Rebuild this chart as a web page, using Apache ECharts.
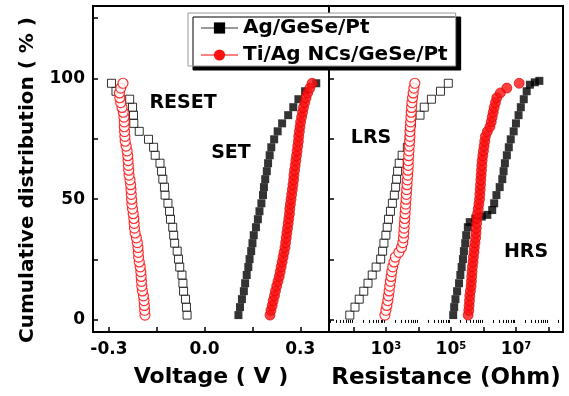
<!DOCTYPE html>
<html><head><meta charset="utf-8">
<script src="https://cdn.jsdelivr.net/npm/echarts@6/dist/echarts.min.js"></script>
<style>html,body{margin:0;padding:0;background:#fff}#c{width:569px;height:396px}</style>
</head><body><div id="c"></div>
<script>
// ---------- data ----------
const legendNames = ['Ag/GeSe/Pt', 'Ti/Ag NCs/GeSe/Pt'];
const voltageTicks = [-0.3, 0.0, 0.3];
const voltageMinorTicks = [-0.3, -0.15, 0.0, 0.15, 0.3];
const distTicks = [0, 50, 100];
const distMinorTicks = [0, 25, 50, 75, 100, 125];
const resistanceTickExponents = [3, 5, 7];
const resistanceMinorTicks = [20, 30, 40, 50, 60, 70, 80, 90, 200, 300, 400, 500, 600, 700, 800, 900,
  2e3, 3e3, 4e3, 5e3, 6e3, 7e3, 8e3, 9e3, 2e4, 3e4, 4e4, 5e4, 6e4, 7e4, 8e4, 9e4,
  2e5, 3e5, 4e5, 5e5, 6e5, 7e5, 8e5, 9e5, 2e6, 3e6, 4e6, 5e6, 6e6, 7e6, 8e6, 9e6,
  2e7, 3e7, 4e7, 5e7, 6e7, 7e7, 8e7, 9e7, 2e8];
const annotationTexts = ['RESET', 'SET', 'LRS', 'HRS'];

// cumulative percent, Ag/GeSe/Pt cells
const agPct = [2, 5.3, 8.6, 11.9, 15.2, 18.6, 21.9, 25.2, 28.5, 31.8, 35.1, 38.4, 41.7, 45, 48.3,
  51.7, 55, 58.3, 61.6, 64.9, 68.2, 71.5, 74.8, 78.1, 81.4, 84.8, 88.1, 91.4, 94.7, 98];
const agResetV = [-0.055, -0.057, -0.060, -0.066, -0.068, -0.071, -0.078, -0.082, -0.086, -0.094, -0.097, -0.100,
  -0.107, -0.110, -0.115, -0.124, -0.126, -0.131, -0.135, -0.140, -0.155, -0.160, -0.176, -0.205, -0.222, -0.223,
  -0.226, -0.235, -0.278, -0.292];
const agSetV = [0.106, 0.111, 0.117, 0.123, 0.127, 0.132, 0.137, 0.141, 0.146, 0.150, 0.154, 0.161, 0.167, 0.172,
  0.178, 0.183, 0.186, 0.190, 0.195, 0.199, 0.204, 0.209, 0.218, 0.229, 0.243, 0.262, 0.278, 0.294, 0.315, 0.350];
// resistance as log10(Ohm)
const agLrsLog = [1.89, 2.05, 2.18, 2.32, 2.45, 2.58, 2.70, 2.84, 2.90, 2.94, 3.00, 3.04, 3.08, 3.14, 3.20, 3.26,
  3.30, 3.33, 3.36, 3.41, 3.50, 3.66, 3.72, 3.74, 3.78, 4.05, 4.18, 4.40, 4.68, 4.92];
const agHrsPct = [2, 5.3, 8.6, 11.9, 15.2, 18.6, 21.9, 25.2, 28.5, 31.8, 35.1, 38.4, 40.5, 42.0, 42.8, 43.5, 45.5,
  48.3, 51.7, 55, 58.3, 61.6, 64.9, 68.2, 71.5, 74.8, 78.1, 81.4, 84.8, 88.1, 91.4, 94.7, 97.4, 98.4, 99];
const agHrsLog = [5.07, 5.10, 5.14, 5.19, 5.25, 5.29, 5.33, 5.37, 5.40, 5.44, 5.47, 5.52, 5.58, 5.75, 5.95, 6.12,
  6.27, 6.33, 6.40, 6.50, 6.58, 6.62, 6.66, 6.72, 6.78, 6.84, 6.93, 7.00, 7.08, 7.15, 7.24, 7.33, 7.43, 7.58, 7.72];

// cumulative percent, Ti/Ag NCs/GeSe/Pt cells
const tiPct = [2, 4, 6, 8, 10, 12, 14, 16, 18, 20, 22, 24, 26, 28, 30, 32, 34, 36, 38, 40, 42, 44, 46, 48, 50,
  52, 54, 56, 58, 60, 62, 64, 66, 68, 70, 72, 74, 76, 78, 80, 82, 84, 86, 88, 90, 92, 94, 96, 98];
const tiResetV = [-0.187, -0.188, -0.189, -0.190, -0.192, -0.195, -0.197, -0.198, -0.199, -0.200, -0.202, -0.205,
  -0.207, -0.208, -0.209, -0.211, -0.214, -0.218, -0.220, -0.221, -0.222, -0.224, -0.226, -0.228, -0.229, -0.230,
  -0.231, -0.232, -0.234, -0.237, -0.238, -0.239, -0.240, -0.241, -0.243, -0.246, -0.249, -0.250, -0.251, -0.252,
  -0.252, -0.253, -0.255, -0.259, -0.263, -0.266, -0.267, -0.263, -0.256];
const tiSetV = [0.205, 0.208, 0.212, 0.215, 0.219, 0.222, 0.226, 0.230, 0.234, 0.237, 0.240, 0.243, 0.246, 0.249,
  0.252, 0.254, 0.256, 0.258, 0.260, 0.262, 0.264, 0.266, 0.267, 0.269, 0.271, 0.273, 0.275, 0.277, 0.279, 0.280,
  0.282, 0.284, 0.286, 0.288, 0.290, 0.292, 0.294, 0.295, 0.297, 0.299, 0.301, 0.304, 0.307, 0.310, 0.314, 0.318,
  0.323, 0.330, 0.337];
const tiLrsLog = [2.97, 3.00, 3.03, 3.06, 3.08, 3.10, 3.12, 3.14, 3.16, 3.18, 3.21, 3.25, 3.29, 3.40, 3.48, 3.52,
  3.54, 3.55, 3.56, 3.57, 3.58, 3.59, 3.60, 3.61, 3.62, 3.63, 3.64, 3.65, 3.66, 3.67, 3.68, 3.69, 3.69, 3.70, 3.71,
  3.72, 3.73, 3.74, 3.74, 3.75, 3.76, 3.77, 3.78, 3.79, 3.80, 3.82, 3.84, 3.86, 3.89];
const tiHrsLog = [5.53, 5.55, 5.56, 5.57, 5.58, 5.60, 5.62, 5.63, 5.64, 5.65, 5.66, 5.68, 5.69, 5.71, 5.72, 5.74,
  5.76, 5.77, 5.78, 5.79, 5.80, 5.82, 5.84, 5.86, 5.88, 5.89, 5.90, 5.91, 5.92, 5.93, 5.94, 5.95, 5.96, 5.98, 6.00,
  6.02, 6.04, 6.06, 6.12, 6.20, 6.24, 6.27, 6.30, 6.33, 6.37, 6.41, 6.52, 6.72, 7.10];

// ---------- build ----------
const FONT = 'DejaVu Sans';
const pairV = (xs, ps) => xs.map((x, i) => [x, ps[i]]);
const pairR = (ls, ps) => ls.map((l, i) => [Math.pow(10, l), ps[i]]);
const near = (arr, v) => arr.find(t => Math.abs(t - v) < 1e-6);

const hollowSq = {symbol: 'rect', symbolSize: 8, itemStyle: {color: '#fff', borderColor: '#000', borderWidth: 1}};
const filledSq = {symbol: 'rect', symbolSize: 8, itemStyle: {color: '#000'}};
const hollowCi = {symbol: 'circle', symbolSize: 10, itemStyle: {color: '#fff', borderColor: '#ff0000', borderWidth: 1.2}};
const filledCi = {symbol: 'circle', symbolSize: 10, itemStyle: {color: '#ff1010', borderColor: '#d00000', borderWidth: 0.8}};

function sc(name, g, data, st) {
  return Object.assign({type: 'scatter', name: name, xAxisIndex: g, yAxisIndex: g, data: data, silent: true}, st);
}

const axisLine = {onZero: false, lineStyle: {color: '#000', width: 2}};
const tickBase = {inside: true, length: 5, lineStyle: {color: '#000', width: 1.5}};
const lbl = {color: '#000', fontFamily: FONT, fontWeight: 'bold', fontSize: 17};
const nameStyle = {color: '#000', fontFamily: FONT, fontWeight: 'bold', fontSize: 22};

const layout = {
  annot: [[183, 103], [231, 153], [371, 138], [526, 252]]
};

const option = {
  animation: false,
  backgroundColor: '#fff',
  grid: [
    {left: 93, top: 6, width: 236, height: 326, show: true, borderColor: '#000', borderWidth: 2},
    {left: 329, top: 6, width: 234, height: 326, show: true, borderColor: '#000', borderWidth: 2}
  ],
  xAxis: [
    {gridIndex: 0, type: 'value', min: -0.35, max: 0.39,
      axisLine: axisLine, axisTick: Object.assign({customValues: voltageMinorTicks}, tickBase), splitLine: {show: false},
      axisLabel: Object.assign({margin: 9, customValues: voltageTicks, formatter: v => Number(v).toFixed(1)}, lbl),
      name: 'Voltage ( V )', nameLocation: 'middle', nameGap: 34, nameTextStyle: nameStyle},
    {gridIndex: 1, type: 'log', logBase: 10, min: 17.8, max: 2.8e8,
      axisLine: axisLine, axisTick: tickBase, splitLine: {show: false},
      axisLabel: Object.assign({margin: 9, formatter: v => { const t = near(resistanceTickExponents, Math.log10(v)); return t === undefined ? '' : '{b|10}{s|' + t + '}'; },
        rich: {b: {fontFamily: FONT, fontWeight: 'bold', fontSize: 17, color: '#000'}, s: {fontFamily: FONT, fontWeight: 'bold', fontSize: 10, color: '#000', verticalAlign: 'top'}}}, lbl),
      name: 'Resistance (Ohm)', nameLocation: 'middle', nameGap: 35, nameTextStyle: Object.assign({}, nameStyle, {fontSize: 23})},
    {gridIndex: 1, type: 'log', logBase: 10, min: 17.8, max: 2.8e8,
      axisLine: {show: false}, axisLabel: {show: false}, splitLine: {show: false},
      axisTick: {show: true, inside: true, length: 3, customValues: resistanceMinorTicks, lineStyle: {color: '#000', width: 1}}}
  ],
  yAxis: [
    {gridIndex: 0, type: 'value', min: -5, max: 130,
      axisLine: axisLine, axisTick: Object.assign({customValues: distMinorTicks}, tickBase), splitLine: {show: false},
      axisLabel: Object.assign({margin: 8, customValues: distTicks}, lbl),
      name: 'Cumulative distribution ( % )', nameLocation: 'middle', nameGap: 55, nameRotate: 90,
      nameTextStyle: Object.assign({}, nameStyle, {fontSize: 20, padding: [0, 22, 0, 0]})},
    {gridIndex: 1, type: 'value', min: -5, max: 130,
      axisLine: axisLine, axisTick: Object.assign({customValues: distMinorTicks}, tickBase), splitLine: {show: false}, axisLabel: {show: false}}
  ],
  legend: {
    data: legendNames, orient: 'vertical', left: 188, top: 13, itemWidth: 37, itemHeight: 14, itemGap: 7,
    padding: [5, 8, 1, 12], backgroundColor: '#fff', borderColor: '#999', borderWidth: 1,
    shadowColor: '#000', shadowOffsetX: 5, shadowOffsetY: 4, shadowBlur: 0.01,
    textStyle: {fontFamily: FONT, fontWeight: 'bold', fontSize: 20, color: '#000'}, selectedMode: false, z: 10
  },
  graphic: annotationTexts.map((t, i) => ({
    type: 'text', x: layout.annot[i][0], y: layout.annot[i][1], z: 20,
    style: {text: t, font: 'bold 19px "DejaVu Sans"', fill: '#000', align: 'center', verticalAlign: 'middle'}
  })),
  series: [
    {type: 'line', name: legendNames[0], data: [], symbol: 'rect', itemStyle: {color: '#000'}, lineStyle: {color: '#999', width: 1}},
    {type: 'line', name: legendNames[1], data: [], symbol: 'circle', itemStyle: {color: '#ff1010'}, lineStyle: {color: '#ff8080', width: 1}},
    sc('Ag RESET', 0, pairV(agResetV, agPct), hollowSq),
    sc('Ag SET', 0, pairV(agSetV, agPct), filledSq),
    sc('Ag LRS', 1, pairR(agLrsLog, agPct), hollowSq),
    sc('Ag HRS', 1, pairR(agHrsLog, agHrsPct), filledSq),
    sc('Ti RESET', 0, pairV(tiResetV, tiPct), hollowCi),
    sc('Ti SET', 0, pairV(tiSetV, tiPct), filledCi),
    sc('Ti LRS', 1, pairR(tiLrsLog, tiPct), hollowCi),
    sc('Ti HRS', 1, pairR(tiHrsLog, tiPct), filledCi)
  ]
};
echarts.init(document.getElementById('c'), null, {renderer: 'canvas'}).setOption(option);
</script></body></html>
